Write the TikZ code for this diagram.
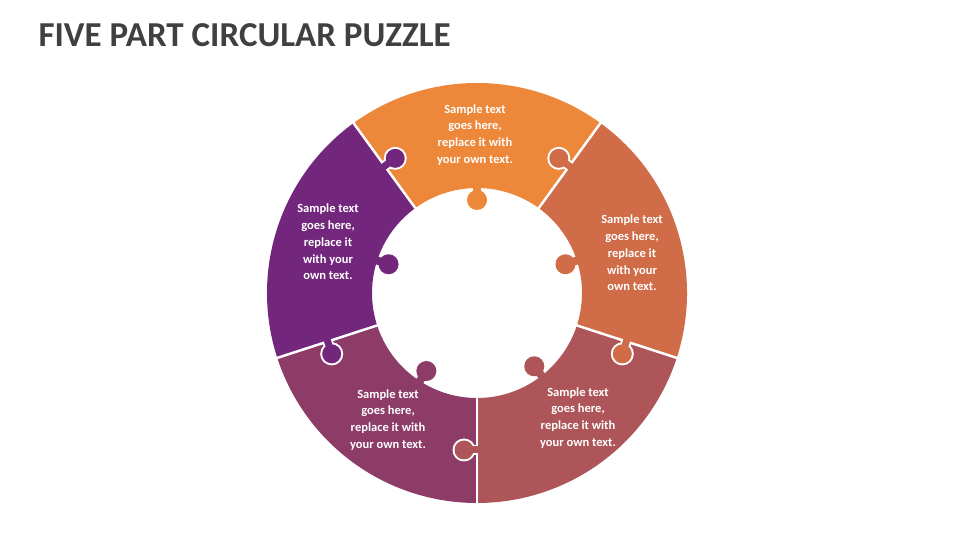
\documentclass[tikz,border=0pt]{standalone}
\usepackage{fontspec}
\setmainfont{Carlito}
\usetikzlibrary{calc}
\definecolor{cOr}{HTML}{ED873A}
\definecolor{cRt}{HTML}{D06C48}
\definecolor{cBr}{HTML}{AE555A}
\definecolor{cBl}{HTML}{8D3C68}
\definecolor{cLf}{HTML}{72267C}
\definecolor{cTitle}{HTML}{404040}
\tikzset{txt/.style={text=white,align=center,font=\fontsize{12.5}{16.8}\selectfont\bfseries}}
\newcommand{\seg}[3]{\fill[#3] ($(C)+(#1:210)$) arc[start angle=#1,end angle=#2,radius=210] -- ($(C)+(#2:105)$) arc[start angle=#2,end angle=#1,radius=105] -- cycle;}
\newcommand{\bknob}[3]{%
 \coordinate (base) at ($(C)+(#1:157)$);
 \coordinate (kk) at ($(base)+(#1+#2*90:13)$);
 \coordinate (bb) at ($(base)+(#1-#2*90:3)$);
 \draw[white,line width=10.5] (base)--(kk);
 \fill[white] (kk) circle (11.5);
 \draw[#3,line width=7] (bb)--(kk);
 \fill[#3] (kk) circle (9.5);}
\newcommand{\iknob}[2]{%
 \draw[#2,line width=8] ($(C)+(#1:110)$)--($(C)+(#1:94)$);
 \fill[#2] ($(C)+(#1:93)$) circle (10);}
\begin{document}
\begin{tikzpicture}[x=1pt,y=1pt]
\fill[white] (0,0) rectangle (960,540);
\useasboundingbox (0,0) rectangle (960,540);
\coordinate (C) at (477,247);
\node[anchor=west,text=cTitle,font=\fontsize{35}{38}\selectfont\bfseries] (title) at (35,505) {FIVE PART CIRCULAR PUZZLE};
\seg{54}{126}{cOr}
\seg{-18}{54}{cRt}
\seg{-90}{-18}{cBr}
\seg{-162}{-90}{cBl}
\seg{126}{198}{cLf}
\foreach \b in {54,126,198,270,342}
 \draw[white,line width=2.5] ($(C)+(\b:100)$) -- ($(C)+(\b:215)$);
\bknob{126}{-1}{cLf}
\bknob{54}{1}{cRt}
\bknob{342}{-1}{cRt}
\bknob{270}{-1}{cBr}
\bknob{198}{1}{cLf}
\iknob{90}{cOr}
\iknob{18}{cRt}
\iknob{-52}{cBr}
\iknob{-123}{cBl}
\iknob{162}{cLf}
\node[txt] (t1) at (475,405) {Sample text\\goes here,\\replace it with\\your own text.};
\node[txt] (t2) at (632,287) {Sample text\\goes here,\\replace it\\with your\\own text.};
\node[txt] (t3) at (578,122) {Sample text\\goes here,\\replace it with\\your own text.};
\node[txt] (t4) at (388,120) {Sample text\\goes here,\\replace it with\\your own text.};
\node[txt] (t5) at (328,298) {Sample text\\goes here,\\replace it\\with your\\own text.};
\end{tikzpicture}
\end{document}
